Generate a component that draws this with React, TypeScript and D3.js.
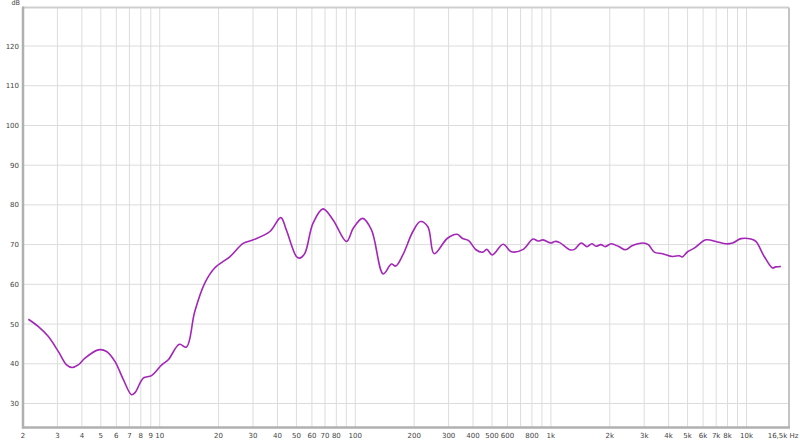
import * as d3 from 'd3';
import { useEffect, useRef } from 'react';

const freqs = [
  2.13, 2.39, 2.69, 3.03, 3.34, 3.57, 3.83, 4.15, 4.85, 5.35, 5.9, 6.52, 7.18, 7.5, 8.24, 9.08,
  10.24, 11.06, 12.6, 13.7, 15.1, 17.0, 19.1, 22.9, 26.7, 30.1, 36.6, 41.6, 44.4, 50, 52, 55.2,
  60.8, 68.4, 77, 90.2, 97.6, 109, 121, 139, 153, 161, 175, 197, 215, 235, 253, 296, 332, 352,
  380, 414, 448, 470, 502, 570, 628, 722, 810, 860, 912, 1000, 1048, 1110, 1248, 1320, 1430,
  1530, 1620, 1700, 1800, 1900, 2032, 2222, 2406, 2600, 2956, 3150, 3378, 3724, 4192, 4532,
  4700, 5000, 5408, 6204, 6980, 7850, 8488, 9366, 10540, 11176, 12328, 13604, 14100, 15004,
];
const levels = [
  51.2, 49.4, 46.9, 43.1, 39.7, 39.05, 39.7, 41.4, 43.5, 43.1, 40.6, 36.0, 32.2, 32.8, 36.4, 37.0,
  39.7, 41.0, 44.9, 44.2, 53.1, 60.3, 64.1, 67.0, 70.3, 71.2, 73.3, 76.8, 73.7, 67.0, 66.6, 67.8,
  75.4, 79.0, 76.2, 70.8, 74.1, 76.6, 73.7, 62.6, 65.1, 64.6, 67.4, 73.3, 75.8, 74.5, 67.7, 71.6,
  72.6, 71.6, 71.0, 68.7, 68.1, 68.8, 67.4, 70.1, 68.2, 68.8, 71.4, 70.9, 71.2, 70.4, 70.8, 70.5,
  68.7, 68.8, 70.4, 69.5, 70.2, 69.6, 70.0, 69.5, 70.2, 69.5, 68.7, 69.7, 70.4, 70.0, 68.1, 67.7,
  67.0, 67.2, 66.9, 68.2, 69.1, 71.2, 70.8, 70.2, 70.4, 71.5, 71.4, 70.8, 67.0, 64.1, 64.4, 64.5,
];

const dbTicks = [30, 40, 50, 60, 70, 80, 90, 100, 110, 120];
const gridFreqs = [
  2, 3, 4, 5, 6, 7, 8, 9, 10, 20, 30, 40, 50, 60, 70, 80, 90, 100, 200, 300, 400, 500, 600, 700,
  800, 900, 1000, 2000, 3000, 4000, 5000, 6000, 7000, 8000, 9000, 10000,
];
const freqLabels = [
  2, 3, 4, 5, 6, 7, 8, 9, 10, 20, 30, 40, 50, 60, 70, 80, 100, 200, 300, 400, 500, 600, 800,
  1000, 2000, 3000, 4000, 5000, 6000, 7000, 8000, 10000,
];

const W = 800;
const H = 440;

const App = () => {
  const ref = useRef<SVGSVGElement>(null);

  useEffect(() => {
    const margin = { top: 7.5, right: 11, bottom: 12.5, left: 23 };
    const width = W - margin.left - margin.right;
    const height = H - margin.top - margin.bottom;

    const root = d3.select(ref.current);
    root.selectAll('*').remove();

    const svg = root.append('g').attr('transform', `translate(${margin.left},${margin.top})`);

    const x = d3.scaleLog().domain([2, 16500]).range([0, width]);
    const y = d3.scaleLinear().domain([23.95, 129.7]).range([height, 0]);

    // grid
    svg.append('g')
      .selectAll('line')
      .data(gridFreqs)
      .join('line')
      .attr('x1', d => x(d)).attr('x2', d => x(d))
      .attr('y1', 0).attr('y2', height)
      .attr('stroke', '#dcdcdc')
      .attr('stroke-width', 1);

    svg.append('g')
      .selectAll('line')
      .data(dbTicks)
      .join('line')
      .attr('x1', 0).attr('x2', width)
      .attr('y1', d => y(d)).attr('y2', d => y(d))
      .attr('stroke', '#dcdcdc')
      .attr('stroke-width', 1);

    // frame: light top/right, heavier left/bottom
    svg.append('line').attr('x1', 0).attr('x2', width).attr('y1', 0).attr('y2', 0)
      .attr('stroke', '#cfcfcf').attr('stroke-width', 2);
    svg.append('line').attr('x1', width).attr('x2', width).attr('y1', 0).attr('y2', height)
      .attr('stroke', '#c4c4c4').attr('stroke-width', 2);
    svg.append('line').attr('x1', 0).attr('x2', 0).attr('y1', -1).attr('y2', height + 1)
      .attr('stroke', '#b0b0b0').attr('stroke-width', 2.5);
    svg.append('line').attr('x1', -1).attr('x2', width + 1).attr('y1', height).attr('y2', height)
      .attr('stroke', '#b0b0b0').attr('stroke-width', 2.5);

    // labels
    const fmt = (d: number) => (d >= 1000 ? `${d / 1000}k` : `${d}`);
    svg.append('g')
      .selectAll('text')
      .data(freqLabels)
      .join('text')
      .attr('x', d => x(d))
      .attr('y', height + 10)
      .attr('text-anchor', 'middle')
      .attr('font-family', 'DejaVu Sans')
      .attr('font-size', 7)
      .attr('fill', '#444')
      .text(fmt);

    svg.append('text')
      .attr('x', W - margin.left - 1.5)
      .attr('y', height + 10)
      .attr('text-anchor', 'end')
      .attr('font-family', 'DejaVu Sans')
      .attr('font-size', 7)
      .attr('fill', '#444')
      .text('16,5k Hz');

    svg.append('g')
      .selectAll('text')
      .data(dbTicks)
      .join('text')
      .attr('x', -4)
      .attr('y', d => y(d) + 2.5)
      .attr('text-anchor', 'end')
      .attr('font-family', 'DejaVu Sans')
      .attr('font-size', 7)
      .attr('fill', '#444')
      .text(d => d);

    svg.append('text')
      .attr('x', -3)
      .attr('y', -3)
      .attr('text-anchor', 'end')
      .attr('font-family', 'DejaVu Sans')
      .attr('font-size', 6.5)
      .attr('fill', '#444')
      .text('dB');

    // response curve
    const pts = freqs.map((f, i) => [f, levels[i]] as [number, number]);
    const line = d3.line<[number, number]>()
      .x(d => x(d[0]))
      .y(d => y(d[1]))
      .curve(d3.curveCatmullRom.alpha(0.5));

    svg.append('path')
      .datum(pts)
      .attr('fill', 'none')
      .attr('stroke', '#a326b8')
      .attr('stroke-width', 1.6)
      .attr('stroke-linejoin', 'round')
      .attr('d', line);
  }, []);

  return (
    <svg
      ref={ref}
      width={W}
      height={H}
      style={{ position: 'absolute', left: 0, top: 0, background: '#fff' }}
    />
  );
};

export default App;
